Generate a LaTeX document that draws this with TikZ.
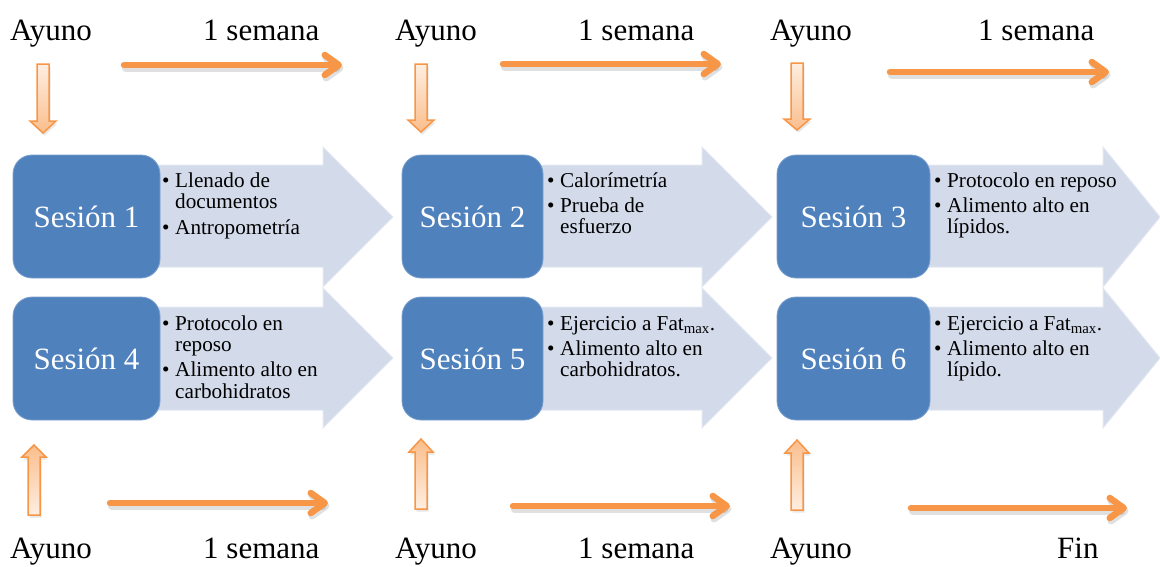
\documentclass[tikz,border=0pt]{standalone}
\usepackage{fontspec}
\setmainfont{Liberation Serif}
\newfontfamily\tnr{Liberation Serif}
\usetikzlibrary{arrows.meta,shadows}
\definecolor{orng}{RGB}{247,150,70}
\definecolor{sesblue}{RGB}{79,129,189}
\definecolor{lightarr}{RGB}{211,218,234}
\definecolor{lightedge}{RGB}{226,231,241}
\definecolor{palorng}{RGB}{254,238,225}
\definecolor{midorng}{RGB}{250,190,140}
\newcommand{\bitem}[1]{\makebox[13pt][l]{\textbullet}#1}
\newcommand{\contl}[1]{\hspace*{13pt}#1}
\newcommand{\downblk}[4]{\draw[downarrow] (#1-6,#2) -- (#1+6,#2) -- (#1+6,#3) -- (#1+13,#3) -- (#1,#4) -- (#1-13,#3) -- (#1-6,#3) -- cycle;}
\newcommand{\upblk}[4]{\draw[uparrow] (#1-6,#2) -- (#1+6,#2) -- (#1+6,#3) -- (#1+12,#3) -- (#1,#4) -- (#1-12,#3) -- (#1-6,#3) -- cycle;}
\begin{document}
\begin{tikzpicture}[x=1pt,y=-1pt,
  lbl/.style={inner sep=0pt, anchor=base west, font=\tnr\fontsize{31}{36}\selectfont},
  sesion/.style={rounded corners=19pt, fill=sesblue, draw=sesblue!75!white, line width=0.8pt, text=white, font=\tnr\fontsize{31}{36}\selectfont, minimum height=123pt, inner sep=0pt},
  bigarrow/.style={fill=lightarr, draw=lightedge, line width=1pt},
  btext/.style={inner sep=0pt, anchor=base west, font=\tnr\fontsize{21.2}{21.5}\selectfont},
  timearrow/.style={draw=orng, line width=6.5pt, line cap=round, -{Straight Barb[length=14pt,width=20pt,round]}},
  tshadow/.style={draw=black, opacity=0.12, line width=7pt, line cap=round, -{Straight Barb[length=14pt,width=20pt,round]}},
  downarrow/.style={draw=orng, line width=1.5pt, top color=palorng, bottom color=midorng, drop shadow={opacity=0.2,shadow xshift=1.5pt,shadow yshift=-2.5pt}},
  uparrow/.style={draw=orng, line width=1.5pt, top color=midorng, bottom color=palorng, drop shadow={opacity=0.2,shadow xshift=1.5pt,shadow yshift=-2.5pt}},
]
\useasboundingbox (0,0) rectangle (1160,566);

% big light arrows (behind the session boxes)
\draw[bigarrow] (150,165) -- (323,165) -- (323,147) -- (393,217) -- (323,287) -- (323,267) -- (150,267) -- cycle;
\draw[bigarrow] (150,307) -- (323,307) -- (323,288) -- (393,358) -- (323,428) -- (323,410) -- (150,410) -- cycle;
\draw[bigarrow] (533,165) -- (702,165) -- (702,147) -- (772,217) -- (702,287) -- (702,267) -- (533,267) -- cycle;
\draw[bigarrow] (533,307) -- (702,307) -- (702,288) -- (772,358) -- (702,428) -- (702,410) -- (533,410) -- cycle;
\draw[bigarrow] (920,165) -- (1103,165) -- (1103,147) -- (1160,217) -- (1103,287) -- (1103,267) -- (920,267) -- cycle;
\draw[bigarrow] (920,307) -- (1103,307) -- (1103,288) -- (1160,358) -- (1103,428) -- (1103,410) -- (920,410) -- cycle;

% session boxes
\node[sesion, minimum width=147pt] (s1) at (86.5,216.5) {Sesión 1};
\node[sesion, minimum width=141pt] (s2) at (472.5,216.5) {Sesión 2};
\node[sesion, minimum width=153pt] (s3) at (853.5,216.5) {Sesión 3};
\node[sesion, minimum width=147pt] (s4) at (86.5,358.5) {Sesión 4};
\node[sesion, minimum width=141pt] (s5) at (472.5,358.5) {Sesión 5};
\node[sesion, minimum width=153pt] (s6) at (853.5,358.5) {Sesión 6};

% bullet texts
\node[btext] (t1) at (162,187) {\parbox[t]{220pt}{\raggedright\bitem{Llenado de}\\\contl{documentos}\\[4pt]\bitem{Antropometría}}};
\node[btext] (t2) at (547,187) {\parbox[t]{220pt}{\raggedright\bitem{Calorímetría}\\[3.5pt]\bitem{Prueba de}\\\contl{esfuerzo}}};
\node[btext] (t3) at (934,187) {\parbox[t]{220pt}{\raggedright\bitem{Protocolo en reposo}\\[3.5pt]\bitem{Alimento alto en}\\\contl{lípidos.}}};
\node[btext] (t4) at (162,330) {\parbox[t]{220pt}{\raggedright\bitem{Protocolo en}\\\contl{reposo}\\[3.5pt]\bitem{Alimento alto en}\\\contl{carbohidratos}}};
\node[btext] (t5) at (547,330) {\parbox[t]{220pt}{\raggedright\bitem{Ejercicio a Fat\textsubscript{max}.}\\[3.5pt]\bitem{Alimento alto en}\\\contl{carbohidratos.}}};
\node[btext] (t6) at (934,330) {\parbox[t]{220pt}{\raggedright\bitem{Ejercicio a Fat\textsubscript{max}.}\\[3.5pt]\bitem{Alimento alto en}\\\contl{lípido.}}};

% labels
\node[lbl] (a1) at (10,40) {Ayuno};
\node[lbl] (w1) at (203,40) {1 semana};
\node[lbl] (a2) at (395,40) {Ayuno};
\node[lbl] (w2) at (578,40) {1 semana};
\node[lbl] (a3) at (770,40) {Ayuno};
\node[lbl] (w3) at (978,40) {1 semana};
\node[lbl] (a4) at (10,558) {Ayuno};
\node[lbl] (w4) at (203,558) {1 semana};
\node[lbl] (a5) at (395,558) {Ayuno};
\node[lbl] (w5) at (578,558) {1 semana};
\node[lbl] (a6) at (770,558) {Ayuno};
\node[lbl] (fin) at (1057,558) {Fin};

% block arrows down / up
\downblk{43}{64}{121}{133}
\downblk{421}{64}{120}{132}
\downblk{797}{63}{119}{130}
\upblk{34}{515}{457}{445}
\upblk{421}{509}{452}{439}
\upblk{797}{510}{453}{440}

% time arrows
\coordinate (h1s) at (124,65);  \coordinate (h1e) at (342,65);
\coordinate (h2s) at (503,64);  \coordinate (h2e) at (721,64);
\coordinate (h3s) at (890,72);  \coordinate (h3e) at (1109,72);
\coordinate (h4s) at (110,503); \coordinate (h4e) at (328,503);
\coordinate (h5s) at (513,506); \coordinate (h5e) at (730,506);
\coordinate (h6s) at (911,508); \coordinate (h6e) at (1127,508);
\foreach \i in {1,...,6}{
  \draw[tshadow, transform canvas={shift={(1.5pt,-3pt)}}] (h\i s) -- (h\i e);
  \draw[timearrow] (h\i s) -- (h\i e);
}
\end{tikzpicture}
\end{document}
